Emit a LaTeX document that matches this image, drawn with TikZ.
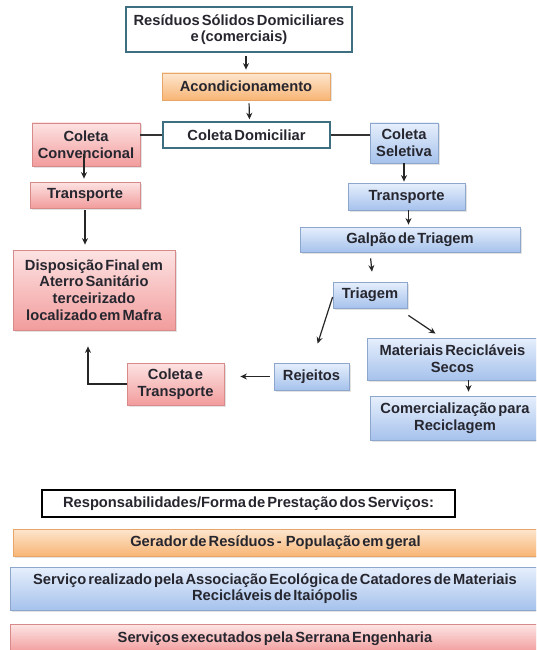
\documentclass[tikz,border=0pt]{standalone}
\usepackage{fontspec}
\setmainfont{Liberation Sans}[WordSpace=0.5]
\usetikzlibrary{arrows.meta,shadows,calc}
\definecolor{txt}{HTML}{26262F}
\definecolor{orT}{HTML}{FDE6CF}
\definecolor{orBot}{HTML}{F8B574}
\definecolor{orB}{HTML}{E8A568}
\definecolor{rdT}{HTML}{FDE3E3}
\definecolor{rdBot}{HTML}{F29C9C}
\definecolor{rdB}{HTML}{D88A8A}
\definecolor{blT}{HTML}{E6EFFC}
\definecolor{blBot}{HTML}{A6C2EC}
\definecolor{blB}{HTML}{8CA6CC}
\definecolor{teal}{HTML}{3E6F80}
\tikzset{
  box/.style={rectangle, inner sep=1pt, align=center, text=txt,
    font=\bfseries\fontsize{14.7}{16.7}\selectfont},
  shade/.style={drop shadow={opacity=0.22, shadow xshift=1.5pt, shadow yshift=-1.5pt}},
  orbox/.style={box, draw=orB, line width=0.8pt, top color=orT, bottom color=orBot, shade},
  rdbox/.style={box, draw=rdB, line width=0.8pt, top color=rdT, bottom color=rdBot, shade},
  blbox/.style={box, draw=blB, line width=0.8pt, top color=blT, bottom color=blBot, shade},
  whbox/.style={box, draw=teal, line width=1.4pt, fill=white},
  legbox/.style={box, draw=black, line width=1.8pt, fill=white},
  arr/.style={-{Stealth[length=6.5pt,width=6pt]}, line width=1.2pt, draw=black!85},
  link/.style={line width=1.4pt, draw=black!80},
}
\begin{document}
\begin{tikzpicture}[x=1pt,y=-1pt]
\useasboundingbox (0,0) rectangle (536,650);
\clip (0,0) rectangle (536,650);
\fill[white] (0,0) rectangle (536,650);

% main flow
\node[whbox, minimum width=226pt, minimum height=45pt] (res) at (239,29.5) {Resíduos Sólidos Domiciliares\\e (comerciais)};
\node[orbox, minimum width=168pt, minimum height=27pt] (acond) at (246,86.5) {Acondicionamento};
\node[whbox, minimum width=167pt, minimum height=26pt] (coldom) at (246.5,135) {Coleta Domiciliar};
\node[rdbox, minimum width=108pt, minimum height=43pt] (conv) at (86,144.5) {Coleta\\Convencional};
\node[blbox, minimum width=68pt, minimum height=40pt] (sel) at (404,143) {Coleta\\Seletiva};
\node[rdbox, minimum width=110pt, minimum height=26pt] (transL) at (85,195) {Transporte};
\node[rdbox, minimum width=162pt, minimum height=80pt] (disp) at (94,290) {Disposição Final em\\Aterro Sanitário\\terceirizado\\localizado em Mafra};
\node[blbox, minimum width=117pt, minimum height=27pt] (transR) at (406.5,196.5) {Transporte};
\node[blbox, minimum width=220pt, minimum height=25pt] (galpao) at (410,239.5) {Galpão de Triagem};
\node[blbox, minimum width=74pt, minimum height=26pt] (triagem) at (370,295) {Triagem};
\node[blbox, minimum width=171pt, minimum height=42pt] (mat) at (452.5,359) {Materiais Recicláveis\\Secos};
\node[blbox, minimum width=170pt, minimum height=44pt] (com) at (455,418) {Comercialização para\\Reciclagem};
\node[blbox, minimum width=75pt, minimum height=27pt] (rej) at (311.5,376.5) {Rejeitos};
\node[rdbox, minimum width=97pt, minimum height=42pt] (ct) at (175.5,384) {Coleta e\\Transporte};

% connectors
\draw[arr, shorten <=3pt, shorten >=3pt] (acond.north |- res.south) -- (acond.north);
\draw[arr, shorten <=3pt, shorten >=2pt] ([xshift=3pt]acond.south) -- ([xshift=3pt]coldom.north);
\draw[link] (coldom.west) -- (coldom.west -| conv.east);
\draw[link] (coldom.east) -- (coldom.east -| sel.west);
\draw[arr, shorten <=-12pt, shorten >=3pt] ([xshift=-2pt]conv.south) -- ([xshift=-2pt]conv.south |- transL.north);
\draw[arr, shorten <=2pt, shorten >=5pt] (transL.south) -- (transL.south |- disp.north);
\draw[arr, shorten <=0pt, shorten >=1pt] (sel.south) -- (sel.south |- transR.north);
\draw[arr, shorten <=0pt, shorten >=2pt] ([xshift=2pt]transR.south) -- ([xshift=2pt]transR.south |- galpao.north);
\draw[arr, shorten <=6pt, shorten >=10pt] (triagem.north |- galpao.south) -- ([xshift=3pt]triagem.north);
\draw[arr, shorten >=20pt] ([yshift=-2pt]triagem.west) -- (rej.north);
\draw[arr] ([shift={(1pt,-7pt)}]triagem.south east) -- ([shift={(-17pt,4pt)}]mat.north);
\draw[arr, shorten <=0pt, shorten >=4pt] ([xshift=16pt]mat.south) -- ([xshift=16pt]mat.south |- com.north);
\draw[arr, shorten <=4pt, shorten >=16pt] (rej.west) -- (rej.west -| ct.east);
\draw[arr, shorten >=16pt] (ct.west) -| ([xshift=-6pt]disp.south);

% legend
\node[legbox, minimum width=413pt, minimum height=27pt] (leg) at (248.5,503.5) {Responsabilidades/Forma de Prestação dos Serviços:};
\node[orbox, minimum width=525pt, minimum height=27pt] (ger) at (275.5,542.5) {Gerador de Resíduos -\ \ População em geral};
\node[blbox, minimum width=530pt, minimum height=43pt] (serv) at (275,588.5) {Serviço realizado pela Associação Ecológica de Catadores de Materiais\\Recicláveis de Itaiópolis};
\node[rdbox, minimum width=530pt, minimum height=28pt] (exe) at (275,638.5) {Serviços executados pela Serrana Engenharia};
\end{tikzpicture}
\end{document}
